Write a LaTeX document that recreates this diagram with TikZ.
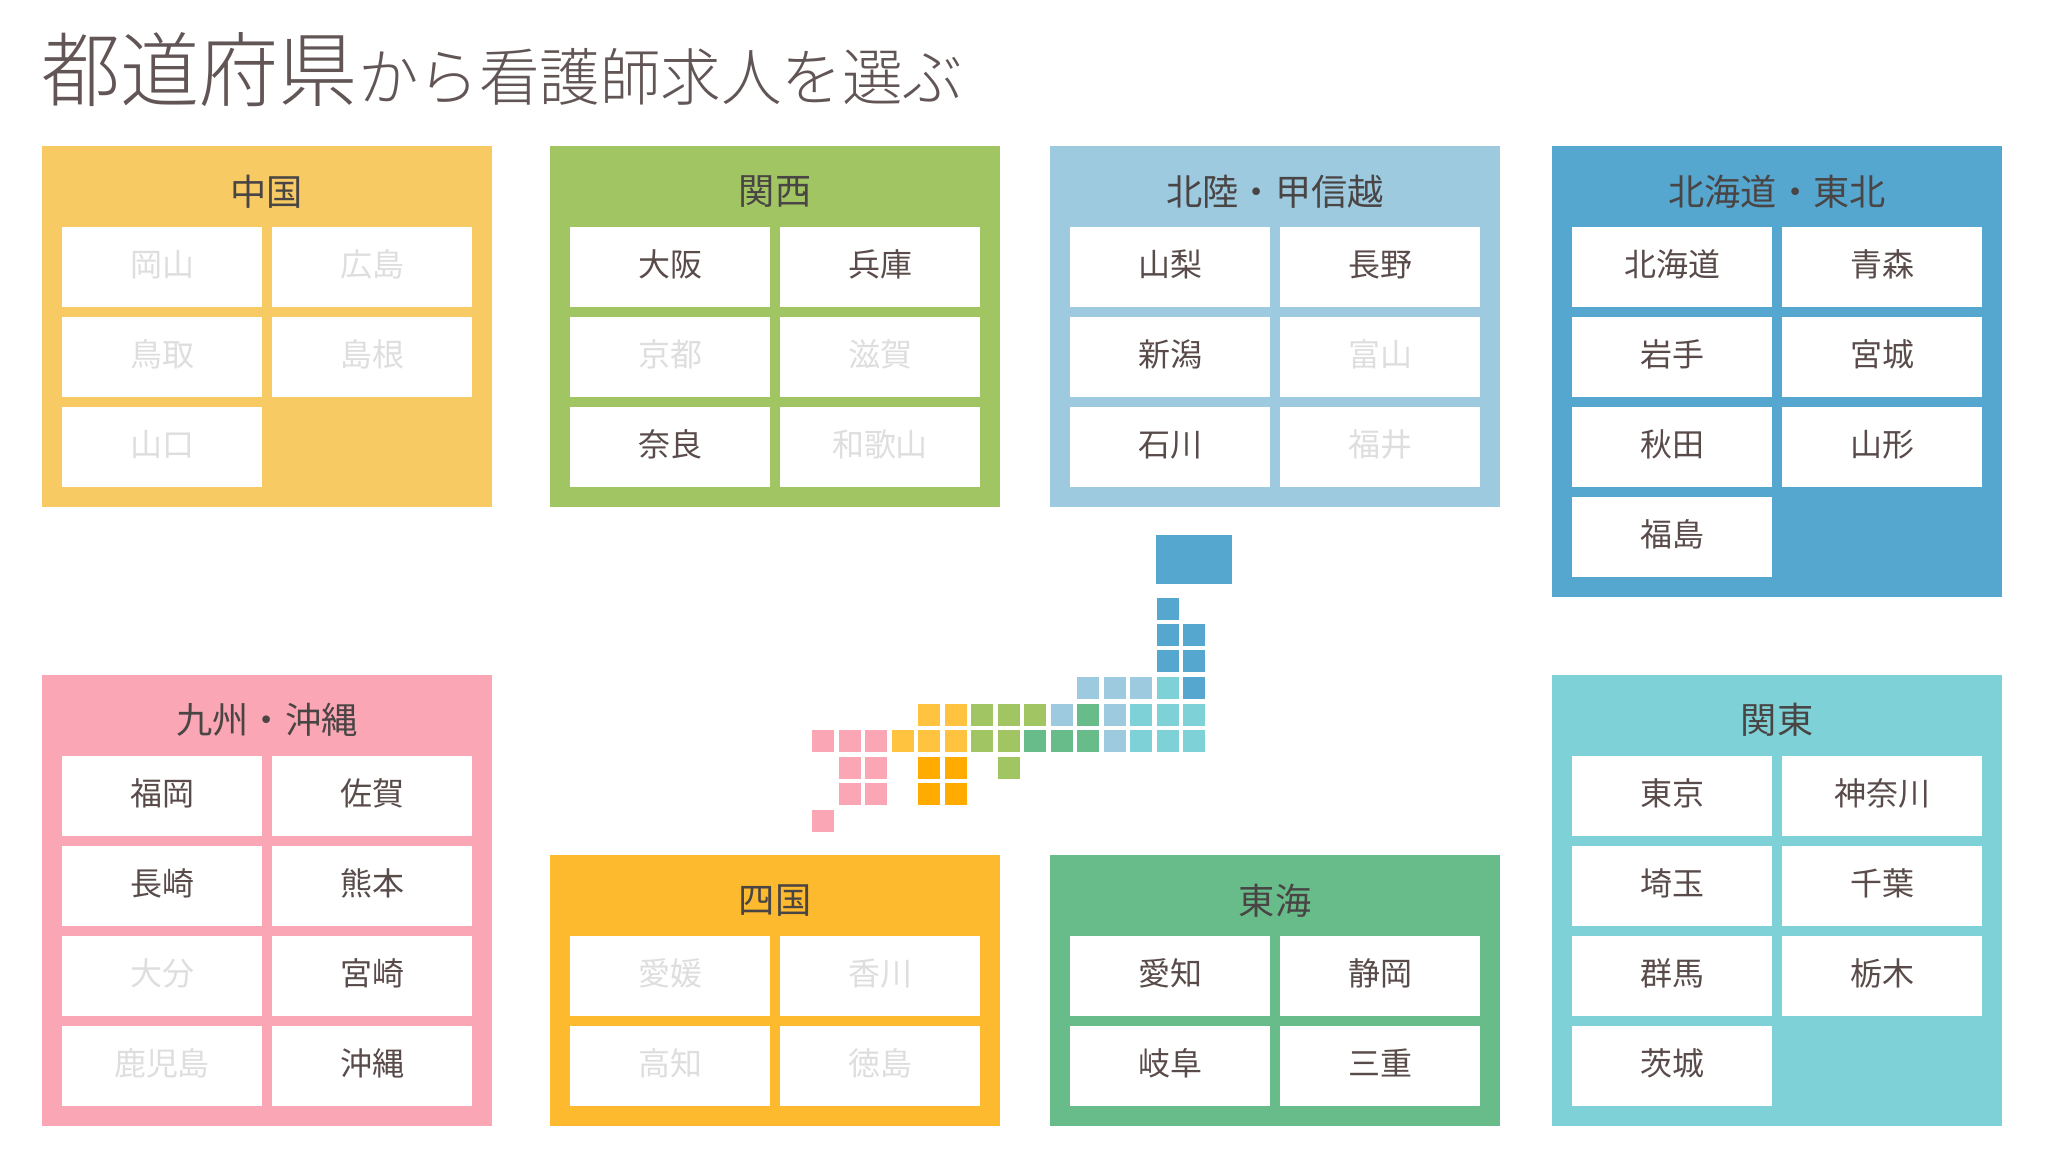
\documentclass[tikz,border=0pt]{standalone}
\usepackage{fontspec}
\setmainfont{Noto Sans CJK JP}
\newfontfamily\titlefont[FakeStretch=0.97]{Noto Sans CJK JP Light}
\usetikzlibrary{positioning}

\definecolor{textdark}{HTML}{5A4B4B}
\definecolor{headdark}{HTML}{4A4545}
\definecolor{textoff}{HTML}{DEDEDE}
\definecolor{titlegray}{HTML}{625555}
\definecolor{chugoku}{HTML}{F7CA63}
\definecolor{kansai}{HTML}{A2C563}
\definecolor{hokuriku}{HTML}{9ECAE0}
\definecolor{tohoku}{HTML}{56A7D0}
\definecolor{kyushu}{HTML}{FAA6B4}
\definecolor{kanto}{HTML}{7DD1D7}
\definecolor{shikoku}{HTML}{FEBA2E}
\definecolor{tokai}{HTML}{67BC8A}
\definecolor{mapchugoku}{HTML}{FFC340}
\definecolor{mapshikoku}{HTML}{FFAB00}

\begin{document}
\begin{tikzpicture}[
    panel/.style={rectangle, minimum width=4.5cm, inner sep=0pt},
    heading/.style={inner sep=0pt, text=headdark, font=\fontsize{10.3}{12}\selectfont},
    pref/.style={rectangle, fill=white, minimum width=2cm, minimum height=0.8cm, inner sep=0pt, text height=8pt, text depth=2.8pt, text=textdark, font=\fontsize{9.1}{11}\selectfont},
    prefoff/.style={pref, text=textoff},
    mapcell/.style={rectangle, minimum width=0.227cm, minimum height=0.227cm, inner sep=0pt}
]
\useasboundingbox (0, 0) rectangle (20.54, 11.52);

% Title
\node[anchor=base west, inner sep=0pt, text=titlegray] (title) at (0.41, 10.51) {\titlefont
    {\fontsize{23.2}{26}\selectfont 都道府県}{\fontsize{17.75}{20}\selectfont から看護師求人を選ぶ}};

% Chugoku
\node[panel, fill=chugoku, minimum height=3.61cm] (chugokubox) at (2.67, 8.255) {};
\node[heading] (chugokuhead) at (2.67, 9.60) {中国};
\node[prefoff] (okayama) at (1.62, 8.85) {岡山};
\node[prefoff] (hiroshima) at (3.72, 8.85) {広島};
\node[prefoff] (tottori) at (1.62, 7.95) {鳥取};
\node[prefoff] (shimane) at (3.72, 7.95) {島根};
\node[prefoff] (yamaguchi) at (1.62, 7.05) {山口};

% Kansai
\node[panel, fill=kansai, minimum height=3.61cm] (kansaibox) at (7.75, 8.255) {};
\node[heading] (kansaihead) at (7.75, 9.60) {関西};
\node[pref] (osaka) at (6.70, 8.85) {大阪};
\node[pref] (hyogo) at (8.80, 8.85) {兵庫};
\node[prefoff] (kyoto) at (6.70, 7.95) {京都};
\node[prefoff] (shiga) at (8.80, 7.95) {滋賀};
\node[pref] (nara) at (6.70, 7.05) {奈良};
\node[prefoff] (wakayama) at (8.80, 7.05) {和歌山};

% Hokuriku, Koshinetsu
\node[panel, fill=hokuriku, minimum height=3.61cm] (hokurikubox) at (12.75, 8.255) {};
\node[heading] (hokurikuhead) at (12.75, 9.60) {北陸・甲信越};
\node[pref] (yamanashi) at (11.70, 8.85) {山梨};
\node[pref] (nagano) at (13.80, 8.85) {長野};
\node[pref] (niigata) at (11.70, 7.95) {新潟};
\node[prefoff] (toyama) at (13.80, 7.95) {富山};
\node[pref] (ishikawa) at (11.70, 7.05) {石川};
\node[prefoff] (fukui) at (13.80, 7.05) {福井};

% Hokkaido, Tohoku
\node[panel, fill=tohoku, minimum height=4.51cm] (tohokubox) at (17.77, 7.805) {};
\node[heading] (tohokuhead) at (17.77, 9.60) {北海道・東北};
\node[pref] (hokkaido) at (16.72, 8.85) {北海道};
\node[pref] (aomori) at (18.82, 8.85) {青森};
\node[pref] (iwate) at (16.72, 7.95) {岩手};
\node[pref] (miyagi) at (18.82, 7.95) {宮城};
\node[pref] (akita) at (16.72, 7.05) {秋田};
\node[pref] (yamagata) at (18.82, 7.05) {山形};
\node[pref] (fukushima) at (16.72, 6.15) {福島};

% Kyushu, Okinawa
\node[panel, fill=kyushu, minimum height=4.51cm] (kyushubox) at (2.67, 2.515) {};
\node[heading] (kyushuhead) at (2.67, 4.32) {九州・沖縄};
\node[pref] (fukuoka) at (1.62, 3.56) {福岡};
\node[pref] (saga) at (3.72, 3.56) {佐賀};
\node[pref] (nagasaki) at (1.62, 2.66) {長崎};
\node[pref] (kumamoto) at (3.72, 2.66) {熊本};
\node[prefoff] (oita) at (1.62, 1.76) {大分};
\node[pref] (miyazaki) at (3.72, 1.76) {宮崎};
\node[prefoff] (kagoshima) at (1.62, 0.86) {鹿児島};
\node[pref] (okinawa) at (3.72, 0.86) {沖縄};

% Shikoku
\node[panel, fill=shikoku, minimum height=2.71cm] (shikokubox) at (7.75, 1.615) {};
\node[heading] (shikokuhead) at (7.75, 2.51) {四国};
\node[prefoff] (ehime) at (6.70, 1.76) {愛媛};
\node[prefoff] (kagawa) at (8.80, 1.76) {香川};
\node[prefoff] (kochi) at (6.70, 0.86) {高知};
\node[prefoff] (tokushima) at (8.80, 0.86) {徳島};

% Tokai
\node[panel, fill=tokai, minimum height=2.71cm] (tokaibox) at (12.75, 1.615) {};
\node[heading] (tokaihead) at (12.75, 2.51) {東海};
\node[pref] (aichi) at (11.70, 1.76) {愛知};
\node[pref] (shizuoka) at (13.80, 1.76) {静岡};
\node[pref] (gifu) at (11.70, 0.86) {岐阜};
\node[pref] (mie) at (13.80, 0.86) {三重};

% Kanto
\node[panel, fill=kanto, minimum height=4.51cm] (kantobox) at (17.77, 2.515) {};
\node[heading] (kantohead) at (17.77, 4.32) {関東};
\node[pref] (tokyo) at (16.72, 3.56) {東京};
\node[pref] (kanagawa) at (18.82, 3.56) {神奈川};
\node[pref] (saitama) at (16.72, 2.66) {埼玉};
\node[pref] (chiba) at (18.82, 2.66) {千葉};
\node[pref] (gunma) at (16.72, 1.76) {群馬};
\node[pref] (tochigi) at (18.82, 1.76) {栃木};
\node[pref] (ibaraki) at (16.72, 0.86) {茨城};

% Map, Hokkaido and Tohoku
\node[rectangle, inner sep=0pt, fill=tohoku, minimum width=0.76cm, minimum height=0.49cm] (mhokkaido) at (11.94, 5.92) {};
\node[mapcell, fill=tohoku] (maomori) at (11.68, 5.43) {};
\node[mapcell, fill=tohoku] (makita) at (11.68, 5.17) {};
\node[mapcell, fill=tohoku] (miwate) at (11.94, 5.17) {};
\node[mapcell, fill=tohoku] (myamagata) at (11.68, 4.91) {};
\node[mapcell, fill=tohoku] (mmiyagi) at (11.94, 4.91) {};
\node[mapcell, fill=tohoku] (mfukushima) at (11.94, 4.64) {};

% Map, Hokuriku and Koshinetsu
\node[mapcell, fill=hokuriku] (mishikawa) at (10.88, 4.64) {};
\node[mapcell, fill=hokuriku] (mtoyama) at (11.15, 4.64) {};
\node[mapcell, fill=hokuriku] (mniigata) at (11.41, 4.64) {};
\node[mapcell, fill=hokuriku] (mfukui) at (10.62, 4.37) {};
\node[mapcell, fill=hokuriku] (mnagano) at (11.15, 4.37) {};
\node[mapcell, fill=hokuriku] (myamanashi) at (11.15, 4.11) {};

% Map, Kanto
\node[mapcell, fill=kanto] (mgunma) at (11.68, 4.64) {};
\node[mapcell, fill=kanto] (mtochigi) at (11.41, 4.37) {};
\node[mapcell, fill=kanto] (msaitama) at (11.68, 4.37) {};
\node[mapcell, fill=kanto] (mibaraki) at (11.94, 4.37) {};
\node[mapcell, fill=kanto] (mkanagawa) at (11.41, 4.11) {};
\node[mapcell, fill=kanto] (mtokyo) at (11.68, 4.11) {};
\node[mapcell, fill=kanto] (mchiba) at (11.94, 4.11) {};

% Map, Tokai
\node[mapcell, fill=tokai] (mgifu) at (10.88, 4.37) {};
\node[mapcell, fill=tokai] (mmie) at (10.35, 4.11) {};
\node[mapcell, fill=tokai] (maichi) at (10.62, 4.11) {};
\node[mapcell, fill=tokai] (mshizuoka) at (10.88, 4.11) {};

% Map, Kansai
\node[mapcell, fill=kansai] (mhyogo) at (9.82, 4.37) {};
\node[mapcell, fill=kansai] (mkyoto) at (10.09, 4.37) {};
\node[mapcell, fill=kansai] (mshiga) at (10.35, 4.37) {};
\node[mapcell, fill=kansai] (mosaka) at (9.82, 4.11) {};
\node[mapcell, fill=kansai] (mnara) at (10.09, 4.11) {};
\node[mapcell, fill=kansai] (mwakayama) at (10.09, 3.84) {};

% Map, Chugoku
\node[mapcell, fill=mapchugoku] (mshimane) at (9.29, 4.37) {};
\node[mapcell, fill=mapchugoku] (mtottori) at (9.56, 4.37) {};
\node[mapcell, fill=mapchugoku] (myamaguchi) at (9.03, 4.11) {};
\node[mapcell, fill=mapchugoku] (mhiroshima) at (9.29, 4.11) {};
\node[mapcell, fill=mapchugoku] (mokayama) at (9.56, 4.11) {};

% Map, Shikoku
\node[mapcell, fill=mapshikoku] (mehime) at (9.29, 3.84) {};
\node[mapcell, fill=mapshikoku] (mkagawa) at (9.56, 3.84) {};
\node[mapcell, fill=mapshikoku] (mkochi) at (9.29, 3.58) {};
\node[mapcell, fill=mapshikoku] (mtokushima) at (9.56, 3.58) {};

% Map, Kyushu and Okinawa
\node[mapcell, fill=kyushu] (mnagasaki) at (8.23, 4.11) {};
\node[mapcell, fill=kyushu] (msaga) at (8.50, 4.11) {};
\node[mapcell, fill=kyushu] (mfukuoka) at (8.76, 4.11) {};
\node[mapcell, fill=kyushu] (mkumamoto) at (8.50, 3.84) {};
\node[mapcell, fill=kyushu] (moita) at (8.76, 3.84) {};
\node[mapcell, fill=kyushu] (mkagoshima) at (8.50, 3.58) {};
\node[mapcell, fill=kyushu] (mmiyazaki) at (8.76, 3.58) {};
\node[mapcell, fill=kyushu] (mokinawa) at (8.23, 3.31) {};

\end{tikzpicture}
\end{document}
